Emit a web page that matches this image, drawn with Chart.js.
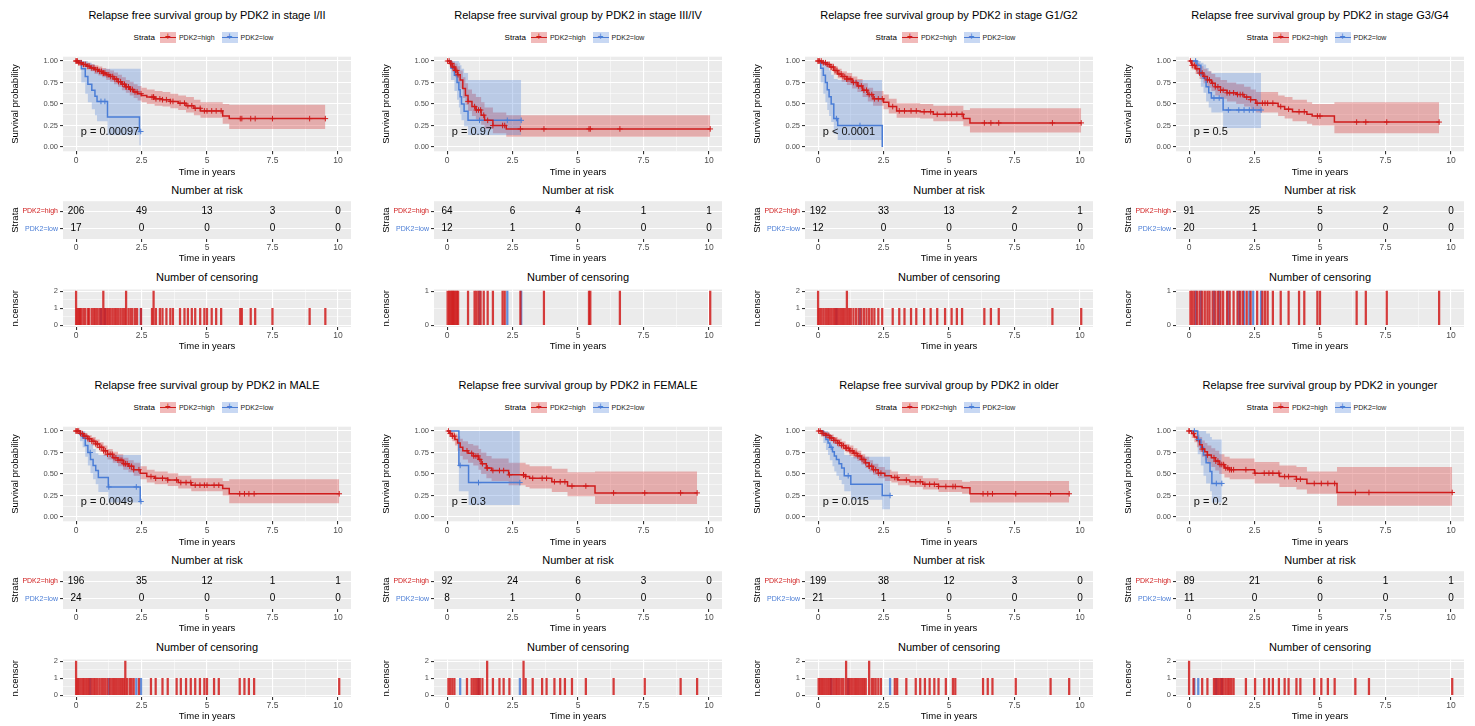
<!DOCTYPE html>
<html>
<head>
<meta charset="utf-8">
<script src="https://cdn.jsdelivr.net/npm/chart.js@4.4.1/dist/chart.umd.min.js"></script>
<style>
  body { margin: 0; width: 1475px; height: 726px; background: #fff; position: relative; overflow: hidden;
         font-family: 'Liberation Sans', Arial, sans-serif; color: #000; }
  .panel { position: absolute; width: 371px; height: 365px; }
  .panel canvas { position: absolute; left: 0; }
  .title { position: absolute; left: 7px; width: 400px; top: 8px; line-height: 14px; font-size: 11px;
           text-align: center; white-space: nowrap; }
  .legend { position: absolute; left: 7px; width: 400px; top: 30px; height: 14px; display: flex;
            justify-content: center; align-items: center; font-size: 7px; white-space: nowrap; }
  .legend .strata { font-size: 8px; margin-right: 5px; }
  .legend .lab { margin: 0 7px 0 3px; color: #222; }
  .key { position: relative; display: inline-block; width: 16px; height: 11px; }
  .key i { position: absolute; left: 0; right: 0; top: 5px; height: 1.6px; }
  .key b { position: absolute; left: 0; right: 0; top: -1px; text-align: center; font-size: 10px; line-height: 12px; font-weight: normal; }
  .sub { position: absolute; left: 57px; width: 300px; line-height: 14px; font-size: 11px; text-align: center; white-space: nowrap; }
</style>
</head>
<body>
<script>
// axes
const timeTicks = [0, 2.5, 5, 7.5, 10];
const survTicks = [0, 0.25, 0.5, 0.75, 1];
const strata = ['PDK2=high', 'PDK2=low'];

const titles = [
  'Relapse free survival group by PDK2 in stage I/II',
  'Relapse free survival group by PDK2 in stage III/IV',
  'Relapse free survival group by PDK2 in stage G1/G2',
  'Relapse free survival group by PDK2 in stage G3/G4',
  'Relapse free survival group by PDK2 in MALE',
  'Relapse free survival group by PDK2 in FEMALE',
  'Relapse free survival group by PDK2 in older',
  'Relapse free survival group by PDK2 in younger'
];
const pvals = ['p = 0.00097', 'p = 0.97', 'p < 0.0001', 'p = 0.5', 'p = 0.0049', 'p = 0.3', 'p = 0.015', 'p = 0.2'];

// stage I/II
const g1HighTime = [0, 0.1, 0.25, 0.4, 0.55, 0.7, 0.85, 1.0, 1.15, 1.3, 1.45, 1.6, 1.75, 1.9, 2.05, 2.2, 2.35, 2.5, 2.7, 3.0, 3.3, 3.6, 3.9, 4.2, 4.5, 4.75, 5.6, 5.85];
const g1HighSurv = [1, 0.98, 0.96, 0.94, 0.92, 0.90, 0.88, 0.86, 0.84, 0.82, 0.79, 0.76, 0.73, 0.70, 0.67, 0.64, 0.62, 0.60, 0.58, 0.56, 0.55, 0.53, 0.51, 0.48, 0.45, 0.42, 0.36, 0.33];
const g1HighUpper = [1, 1, 0.99, 0.98, 0.965, 0.95, 0.935, 0.92, 0.905, 0.89, 0.865, 0.84, 0.81, 0.78, 0.76, 0.73, 0.71, 0.69, 0.67, 0.65, 0.64, 0.62, 0.60, 0.58, 0.55, 0.52, 0.50, 0.49];
const g1HighLower = [1, 0.96, 0.93, 0.90, 0.88, 0.85, 0.83, 0.81, 0.78, 0.76, 0.73, 0.70, 0.66, 0.63, 0.60, 0.57, 0.54, 0.52, 0.50, 0.48, 0.47, 0.45, 0.43, 0.40, 0.37, 0.34, 0.27, 0.21];
const g1HighCensor = [0, 0, 0.05, 0.1, 0.15, 0.2, 0.28, 0.35, 0.45, 0.5, 0.6, 0.68, 0.75, 0.82, 0.9, 0.97, 1.04, 1.04, 1.1, 1.18, 1.25, 1.32, 1.4, 1.48, 1.55, 1.62, 1.7, 1.78, 1.85, 1.91, 1.91, 2.0, 2.08, 2.15, 2.25, 2.33, 2.48, 2.9, 2.96, 2.96, 3.05, 3.2, 3.3, 3.45, 3.6, 3.7, 3.97, 4.14, 4.27, 4.42, 4.55, 4.74, 4.9, 5.0, 5.18, 5.35, 5.54, 6.27, 6.33, 6.67, 6.84, 7.5, 8.92, 9.52];
const g1LowTime = [0, 0.2, 0.35, 0.45, 0.6, 0.72, 0.8, 1.2, 2.42];
const g1LowSurv = [1, 0.91, 0.82, 0.73, 0.66, 0.59, 0.53, 0.35, 0.18];
const g1LowUpper = [1, 1, 1, 0.98, 0.96, 0.93, 0.91, 0.91, 0.91];
const g1LowLower = [1, 0.75, 0.62, 0.52, 0.44, 0.37, 0.30, 0.14, 0.02];
const g1LowCensor = [0.95, 1.1, 2.47];
const g1RiskHigh = [206, 49, 13, 3, 0];
const g1RiskLow = [17, 0, 0, 0, 0];

// stage III/IV
const g2HighTime = [0, 0.1, 0.2, 0.3, 0.4, 0.5, 0.6, 0.7, 0.8, 0.95, 1.1, 1.3, 1.43, 1.75, 2.26];
const g2HighSurv = [1, 0.97, 0.93, 0.89, 0.84, 0.78, 0.68, 0.6, 0.53, 0.47, 0.43, 0.37, 0.31, 0.25, 0.21];
const g2HighUpper = [1, 1, 0.99, 0.97, 0.94, 0.89, 0.81, 0.74, 0.67, 0.62, 0.58, 0.52, 0.46, 0.40, 0.37];
const g2HighLower = [1, 0.93, 0.87, 0.81, 0.75, 0.68, 0.57, 0.49, 0.42, 0.36, 0.32, 0.26, 0.21, 0.16, 0.12];
const g2HighCensor = [0.02, 0.08, 0.13, 0.18, 0.22, 0.27, 0.32, 0.37, 0.42, 0.8, 1.05, 1.12, 1.2, 1.28, 1.4, 1.55, 1.75, 2.12, 2.2, 2.8, 3.7, 5.42, 5.47, 6.6, 10.05];
const g2LowTime = [0, 0.15, 0.28, 0.38, 0.45, 0.5, 0.55, 0.65, 0.8];
const g2LowSurv = [1, 0.917, 0.833, 0.75, 0.667, 0.583, 0.5, 0.417, 0.31];
const g2LowUpper = [1, 1, 1, 1, 0.98, 0.95, 0.91, 0.86, 0.78];
const g2LowLower = [1, 0.78, 0.65, 0.55, 0.46, 0.38, 0.31, 0.24, 0.14];
const g2LowCensor = [1.24, 2.3, 2.83];
const g2RiskHigh = [64, 6, 4, 1, 1];
const g2RiskLow = [12, 1, 0, 0, 0];

// stage G1/G2
const g3HighTime = [0, 0.15, 0.3, 0.45, 0.6, 0.75, 0.9, 1.1, 1.3, 1.5, 1.7, 1.9, 2.1, 2.5, 2.7, 3.0, 3.9, 4.4, 5.55, 5.8];
const g3HighSurv = [1, 0.98, 0.96, 0.93, 0.89, 0.85, 0.82, 0.79, 0.75, 0.71, 0.66, 0.61, 0.56, 0.52, 0.47, 0.42, 0.41, 0.38, 0.33, 0.28];
const g3HighUpper = [1, 1, 0.99, 0.97, 0.94, 0.91, 0.88, 0.86, 0.82, 0.79, 0.74, 0.69, 0.65, 0.61, 0.56, 0.51, 0.50, 0.48, 0.43, 0.45];
const g3HighLower = [1, 0.96, 0.93, 0.89, 0.84, 0.80, 0.76, 0.72, 0.68, 0.64, 0.58, 0.53, 0.48, 0.44, 0.39, 0.34, 0.33, 0.30, 0.24, 0.17];
const g3HighCensor = [0, 0, 0.05, 0.12, 0.2, 0.28, 0.35, 0.42, 0.5, 0.58, 0.65, 0.72, 0.8, 0.88, 0.95, 1.02, 1.1, 1.1, 1.18, 1.25, 1.35, 1.45, 1.55, 1.65, 1.75, 1.85, 1.95, 2.05, 2.15, 2.3, 2.45, 2.85, 3.1, 3.3, 3.55, 3.75, 4.05, 4.3, 4.55, 4.85, 5.1, 5.3, 5.5, 6.35, 6.6, 6.9, 8.95, 10.05];
const g3LowTime = [0, 0.1, 0.2, 0.28, 0.35, 0.42, 0.5, 0.6, 0.75, 2.45];
const g3LowSurv = [1, 0.917, 0.833, 0.75, 0.667, 0.583, 0.5, 0.33, 0.25, 0];
const g3LowUpper = [1, 1, 1, 0.98, 0.94, 0.89, 0.84, 0.79, 0.78, 0];
const g3LowLower = [1, 0.75, 0.62, 0.52, 0.43, 0.36, 0.29, 0.15, 0.08, 0];
const g3LowCensor = [0.7, 1.6];
const g3RiskHigh = [192, 33, 13, 2, 1];
const g3RiskLow = [12, 0, 0, 0, 0];

// stage G3/G4
const g4HighTime = [0, 0.1, 0.25, 0.4, 0.55, 0.7, 0.85, 1.0, 1.2, 1.45, 1.8, 2.1, 2.35, 2.55, 3.4, 3.65, 3.95, 4.5, 4.7, 5.55];
const g4HighSurv = [1, 0.95, 0.91, 0.86, 0.82, 0.78, 0.74, 0.70, 0.66, 0.63, 0.61, 0.58, 0.55, 0.51, 0.47, 0.44, 0.41, 0.38, 0.36, 0.29];
const g4HighUpper = [1, 1, 0.98, 0.94, 0.91, 0.88, 0.85, 0.81, 0.78, 0.75, 0.73, 0.70, 0.67, 0.64, 0.60, 0.58, 0.55, 0.52, 0.50, 0.52];
const g4HighLower = [1, 0.90, 0.85, 0.79, 0.74, 0.69, 0.65, 0.60, 0.56, 0.53, 0.50, 0.47, 0.44, 0.40, 0.36, 0.33, 0.30, 0.27, 0.25, 0.16];
const g4HighCensor = [0.05, 0.12, 0.2, 0.3, 0.4, 0.5, 0.6, 0.7, 0.78, 0.9, 1.0, 1.1, 1.2, 1.3, 1.45, 1.55, 1.7, 1.85, 1.95, 2.05, 2.2, 2.35, 2.6, 2.8, 2.9, 3.0, 3.2, 3.5, 3.8, 4.2, 4.4, 4.9, 5.0, 6.4, 6.75, 7.55, 9.55];
const g4LowTime = [0, 0.3, 0.45, 0.55, 0.65, 0.75, 0.85, 1.3];
const g4LowSurv = [1, 0.95, 0.85, 0.8, 0.7, 0.63, 0.57, 0.43];
const g4LowUpper = [1, 1, 0.98, 0.96, 0.92, 0.88, 0.86, 0.86];
const g4LowLower = [1, 0.86, 0.70, 0.63, 0.53, 0.46, 0.40, 0.22];
const g4LowCensor = [0.25, 0.45, 0.95, 1.15, 1.5, 1.9, 2.1, 2.3, 2.45, 2.75];
const g4RiskHigh = [91, 25, 5, 2, 0];
const g4RiskLow = [20, 1, 0, 0, 0];

// MALE
const g5HighTime = [0, 0.15, 0.3, 0.45, 0.6, 0.75, 0.9, 1.05, 1.2, 1.4, 1.6, 1.8, 2.0, 2.2, 2.45, 2.7, 3.0, 3.5, 3.9, 4.4, 5.6, 5.85];
const g5HighSurv = [1, 0.97, 0.94, 0.91, 0.88, 0.85, 0.81, 0.77, 0.73, 0.69, 0.66, 0.62, 0.59, 0.55, 0.51, 0.47, 0.45, 0.43, 0.40, 0.37, 0.33, 0.27];
const g5HighUpper = [1, 0.99, 0.97, 0.95, 0.93, 0.90, 0.87, 0.83, 0.79, 0.76, 0.73, 0.69, 0.66, 0.63, 0.59, 0.55, 0.53, 0.51, 0.48, 0.45, 0.42, 0.44];
const g5HighLower = [1, 0.95, 0.91, 0.87, 0.83, 0.80, 0.76, 0.71, 0.67, 0.63, 0.59, 0.55, 0.52, 0.48, 0.44, 0.40, 0.38, 0.36, 0.33, 0.30, 0.25, 0.16];
const g5HighCensor = [0, 0, 0.05, 0.1, 0.17, 0.24, 0.3, 0.38, 0.45, 0.52, 0.6, 0.68, 0.75, 0.82, 0.9, 0.98, 1.05, 1.12, 1.2, 1.3, 1.38, 1.45, 1.52, 1.6, 1.68, 1.75, 1.82, 1.88, 1.88, 1.95, 2.05, 2.12, 2.2, 2.4, 2.86, 3.04, 3.3, 3.5, 3.84, 4.0, 4.2, 4.38, 4.55, 4.73, 4.9, 5.0, 5.27, 5.45, 6.25, 6.43, 6.6, 6.8, 10.05];
const g5LowTime = [0, 0.15, 0.25, 0.35, 0.45, 0.55, 0.65, 0.75, 0.85, 1.23, 2.45];
const g5LowSurv = [1, 0.96, 0.92, 0.83, 0.75, 0.67, 0.6, 0.54, 0.46, 0.35, 0.18];
const g5LowUpper = [1, 1, 1, 0.96, 0.91, 0.85, 0.79, 0.74, 0.72, 0.72, 0.72];
const g5LowLower = [1, 0.88, 0.81, 0.70, 0.60, 0.51, 0.44, 0.38, 0.29, 0.17, 0.02];
const g5LowCensor = [0.54, 1.25, 2.3, 2.48];
const g5RiskHigh = [196, 35, 12, 1, 1];
const g5RiskLow = [24, 0, 0, 0, 0];

// FEMALE
const g6HighTime = [0, 0.1, 0.2, 0.3, 0.4, 0.5, 0.6, 0.8, 1.0, 1.2, 1.3, 1.5, 1.7, 2.35, 3.0, 3.15, 4.0, 4.6, 5.65];
const g6HighSurv = [1, 0.97, 0.94, 0.90, 0.86, 0.81, 0.77, 0.74, 0.71, 0.67, 0.62, 0.57, 0.54, 0.49, 0.47, 0.45, 0.41, 0.36, 0.28];
const g6HighUpper = [1, 1, 0.99, 0.97, 0.94, 0.91, 0.88, 0.85, 0.83, 0.79, 0.75, 0.71, 0.68, 0.63, 0.61, 0.59, 0.56, 0.52, 0.53];
const g6HighLower = [1, 0.93, 0.88, 0.83, 0.77, 0.71, 0.67, 0.63, 0.60, 0.55, 0.50, 0.45, 0.42, 0.37, 0.35, 0.33, 0.29, 0.24, 0.15];
const g6HighCensor = [0.05, 0.12, 0.2, 0.28, 0.76, 0.94, 1.02, 1.1, 1.18, 1.25, 1.35, 1.53, 1.53, 1.75, 2.0, 2.16, 2.38, 2.92, 2.92, 3.0, 3.27, 3.63, 3.8, 4.1, 4.32, 4.5, 4.77, 5.3, 6.36, 7.55, 8.92, 9.55];
const g6LowTime = [0, 0.45, 0.82];
const g6LowSurv = [1, 0.6, 0.4];
const g6LowUpper = [1, 1, 1];
const g6LowLower = [1, 0.3, 0.14];
const g6LowCensor = [0.5, 1.2, 2.78];
const g6RiskHigh = [92, 24, 6, 3, 0];
const g6RiskLow = [8, 1, 0, 0, 0];

// older
const g7HighTime = [0, 0.15, 0.3, 0.45, 0.6, 0.75, 0.9, 1.05, 1.2, 1.35, 1.5, 1.65, 1.8, 1.95, 2.1, 2.3, 2.55, 2.8, 3.05, 3.5, 4.0, 4.6, 5.5, 5.8];
const g7HighSurv = [1, 0.97, 0.95, 0.92, 0.89, 0.86, 0.83, 0.80, 0.77, 0.74, 0.71, 0.67, 0.63, 0.59, 0.55, 0.51, 0.48, 0.46, 0.43, 0.41, 0.38, 0.355, 0.34, 0.27];
const g7HighUpper = [1, 0.99, 0.98, 0.96, 0.93, 0.91, 0.88, 0.85, 0.83, 0.80, 0.77, 0.73, 0.70, 0.66, 0.62, 0.58, 0.55, 0.53, 0.50, 0.48, 0.45, 0.43, 0.41, 0.42];
const g7HighLower = [1, 0.95, 0.92, 0.88, 0.85, 0.81, 0.78, 0.75, 0.71, 0.68, 0.65, 0.61, 0.57, 0.53, 0.49, 0.45, 0.42, 0.40, 0.37, 0.35, 0.32, 0.29, 0.27, 0.17];
const g7HighCensor = [0.02, 0.08, 0.15, 0.22, 0.3, 0.38, 0.45, 0.52, 0.6, 0.68, 0.75, 0.82, 0.9, 0.97, 1.07, 1.07, 1.15, 1.22, 1.3, 1.38, 1.45, 1.52, 1.6, 1.68, 1.75, 1.82, 1.95, 1.95, 2.05, 2.12, 2.2, 2.3, 2.4, 2.93, 3.02, 3.37, 3.73, 3.9, 4.08, 4.26, 4.44, 4.6, 4.88, 5.15, 5.24, 6.3, 6.48, 6.66, 7.55, 8.88, 9.59];
const g7LowTime = [0, 0.2, 0.3, 0.38, 0.45, 0.55, 0.62, 0.7, 0.8, 0.9, 1.0, 1.25, 2.45];
const g7LowSurv = [1, 0.95, 0.9, 0.86, 0.81, 0.76, 0.71, 0.67, 0.62, 0.57, 0.48, 0.38, 0.25];
const g7LowUpper = [1, 1, 1, 0.98, 0.95, 0.92, 0.89, 0.86, 0.82, 0.78, 0.72, 0.70, 0.70];
const g7LowLower = [1, 0.86, 0.78, 0.72, 0.66, 0.59, 0.53, 0.48, 0.43, 0.38, 0.30, 0.20, 0.09];
const g7LowCensor = [0.5, 1.15, 2.75];
const g7RiskHigh = [199, 38, 12, 3, 0];
const g7RiskLow = [21, 1, 0, 0, 0];

// younger
const g8HighTime = [0, 0.1, 0.2, 0.3, 0.4, 0.5, 0.6, 0.7, 0.85, 1.0, 1.15, 1.35, 1.55, 2.5, 3.45, 4.1, 4.5, 5.65];
const g8HighSurv = [1, 0.97, 0.93, 0.89, 0.84, 0.79, 0.76, 0.72, 0.69, 0.65, 0.61, 0.57, 0.55, 0.51, 0.47, 0.44, 0.39, 0.285];
const g8HighUpper = [1, 1, 0.99, 0.96, 0.93, 0.89, 0.86, 0.83, 0.80, 0.77, 0.73, 0.70, 0.68, 0.64, 0.60, 0.58, 0.53, 0.58];
const g8HighLower = [1, 0.92, 0.87, 0.81, 0.76, 0.70, 0.66, 0.62, 0.58, 0.54, 0.50, 0.46, 0.44, 0.39, 0.35, 0.32, 0.27, 0.13];
const g8HighCensor = [0, 0, 0.17, 0.5, 0.7, 0.95, 1.02, 1.1, 1.18, 1.25, 1.32, 1.4, 1.48, 1.55, 1.62, 1.7, 2.17, 2.52, 2.87, 3.05, 3.2, 3.43, 3.65, 3.8, 4.1, 4.25, 4.78, 5.05, 5.3, 5.56, 6.35, 6.87, 10.05];
const g8LowTime = [0, 0.33, 0.45, 0.55, 0.65, 0.8, 0.87];
const g8LowSurv = [1, 0.9, 0.81, 0.72, 0.63, 0.53, 0.39];
const g8LowUpper = [1, 1, 1, 1, 0.97, 0.93, 0.9];
const g8LowLower = [1, 0.73, 0.6, 0.48, 0.39, 0.30, 0.17];
const g8LowCensor = [0.2, 0.35, 1.04, 1.25];
const g8RiskHigh = [89, 21, 6, 1, 1];
const g8RiskLow = [11, 0, 0, 0, 0];

const RED = '#D01C1C';
const BLUE = '#4A7DD6';
const RED_BAND = 'rgba(208, 28, 28, 0.3)';
const BLUE_BAND = 'rgba(74, 125, 214, 0.3)';
const FONT = "'Liberation Sans', Arial, sans-serif";

Chart.defaults.font.family = FONT;

function curve(time, surv, upper, lower, censor) {
  return { time, surv, upper, lower, censor };
}

const panels = [
  { high: curve(g1HighTime, g1HighSurv, g1HighUpper, g1HighLower, g1HighCensor), low: curve(g1LowTime, g1LowSurv, g1LowUpper, g1LowLower, g1LowCensor), riskHigh: g1RiskHigh, riskLow: g1RiskLow },
  { high: curve(g2HighTime, g2HighSurv, g2HighUpper, g2HighLower, g2HighCensor), low: curve(g2LowTime, g2LowSurv, g2LowUpper, g2LowLower, g2LowCensor), riskHigh: g2RiskHigh, riskLow: g2RiskLow },
  { high: curve(g3HighTime, g3HighSurv, g3HighUpper, g3HighLower, g3HighCensor), low: curve(g3LowTime, g3LowSurv, g3LowUpper, g3LowLower, g3LowCensor), riskHigh: g3RiskHigh, riskLow: g3RiskLow },
  { high: curve(g4HighTime, g4HighSurv, g4HighUpper, g4HighLower, g4HighCensor), low: curve(g4LowTime, g4LowSurv, g4LowUpper, g4LowLower, g4LowCensor), riskHigh: g4RiskHigh, riskLow: g4RiskLow },
  { high: curve(g5HighTime, g5HighSurv, g5HighUpper, g5HighLower, g5HighCensor), low: curve(g5LowTime, g5LowSurv, g5LowUpper, g5LowLower, g5LowCensor), riskHigh: g5RiskHigh, riskLow: g5RiskLow },
  { high: curve(g6HighTime, g6HighSurv, g6HighUpper, g6HighLower, g6HighCensor), low: curve(g6LowTime, g6LowSurv, g6LowUpper, g6LowLower, g6LowCensor), riskHigh: g6RiskHigh, riskLow: g6RiskLow },
  { high: curve(g7HighTime, g7HighSurv, g7HighUpper, g7HighLower, g7HighCensor), low: curve(g7LowTime, g7LowSurv, g7LowUpper, g7LowLower, g7LowCensor), riskHigh: g7RiskHigh, riskLow: g7RiskLow },
  { high: curve(g8HighTime, g8HighSurv, g8HighUpper, g8HighLower, g8HighCensor), low: curve(g8LowTime, g8LowSurv, g8LowUpper, g8LowLower, g8LowCensor), riskHigh: g8RiskHigh, riskLow: g8RiskLow }
];

// minor grid lines sit half way between the labelled ticks, like ggplot
const midpoints = arr => arr.slice(1).map((v, i) => (v + arr[i]) / 2);
const timeGrid = [...timeTicks, ...midpoints(timeTicks)].sort((a, b) => a - b);
const survGrid = [...survTicks, ...midpoints(survTicks)].sort((a, b) => a - b);

function endOf(c) {
  return Math.max(c.time[c.time.length - 1], ...c.censor);
}
function steps(time, vals, end) {
  const pts = time.map((t, i) => ({ x: t, y: vals[i] }));
  pts.push({ x: end, y: vals[vals.length - 1] });
  return pts;
}
function survAt(c, t) {
  let s = c.surv[0];
  c.time.forEach((tt, i) => { if (tt <= t) s = c.surv[i]; });
  return s;
}
function counts(times) {
  const m = new Map();
  times.forEach(t => m.set(t, (m.get(t) || 0) + 1));
  return [...m].map(([x, y]) => ({ x, y }));
}

// grey ggplot panel
const panelBg = {
  id: 'panelBg',
  beforeDraw(chart) {
    const { ctx, chartArea: a } = chart;
    ctx.save();
    ctx.fillStyle = '#EBEBEB';
    ctx.fillRect(a.left, a.top, a.right - a.left, a.bottom - a.top);
    ctx.restore();
  }
};

const pvalText = {
  id: 'pvalText',
  afterDatasetsDraw(chart, args, opts) {
    const { ctx, scales: { x, y } } = chart;
    ctx.save();
    ctx.font = '11px ' + FONT;
    ctx.fillStyle = '#111';
    ctx.textAlign = 'left';
    ctx.textBaseline = 'middle';
    ctx.fillText(opts.text, x.getPixelForValue(0.18), y.getPixelForValue(0.18));
    ctx.restore();
  }
};

const riskText = {
  id: 'riskText',
  afterDatasetsDraw(chart) {
    const ctx = chart.ctx;
    ctx.save();
    ctx.font = '10px ' + FONT;
    ctx.fillStyle = '#000';
    ctx.textAlign = 'center';
    ctx.textBaseline = 'middle';
    chart.data.datasets.forEach((ds, di) => {
      chart.getDatasetMeta(di).data.forEach((pt, k) => ctx.fillText(String(ds.data[k].n), pt.x, pt.y));
    });
    ctx.restore();
  }
};

const isMajorTime = v => timeTicks.includes(v);

function timeAxis(height, withGrid) {
  return {
    type: 'linear', min: -0.5, max: 10.5, offset: false,
    afterBuildTicks: s => { s.ticks = (withGrid ? timeGrid : timeTicks).map(v => ({ value: v })); },
    afterFit: s => { s.height = height; },
    ticks: {
      autoSkip: false, maxRotation: 0, padding: 1, color: '#4D4D4D',
      font: { size: 8.5 },
      callback: v => isMajorTime(v) ? String(v) : ''
    },
    grid: {
      offset: false,
      color: withGrid ? '#FFFFFF' : 'rgba(0,0,0,0)',
      lineWidth: c => isMajorTime(c.tick.value) ? 1.1 : 0.5,
      tickLength: 3,
      tickColor: c => isMajorTime(c.tick.value) ? '#333333' : 'rgba(0,0,0,0)'
    },
    border: { display: false },
    title: { display: true, text: 'Time in years', color: '#000', font: { size: 9.5 }, padding: { top: 0, bottom: 0 } }
  };
}

function leftTitle(text) {
  return { display: true, text, color: '#000', font: { size: 9.5 }, padding: { top: 9.3, bottom: 0 } };
}

const base = {
  responsive: false, animation: false, devicePixelRatio: 1, events: [],
  plugins: { legend: { display: false }, tooltip: { enabled: false } }
};

function kmChart(canvas, p, i) {
  const h = p.high, l = p.low;
  const hEnd = endOf(h), lEnd = endOf(l);
  const band = (c, key, end, color, fill, order) => ({
    data: steps(c.time, c[key], end), stepped: true, fill, backgroundColor: color,
    borderColor: 'rgba(0,0,0,0)', borderWidth: 0, pointRadius: 0, order
  });
  const line = (c, end, color) => ({
    data: steps(c.time, c.surv, end), stepped: true, fill: false, borderColor: color,
    borderWidth: 1.5, pointRadius: 0, order: 2
  });
  const marks = (c, color) => ({
    type: 'scatter', data: c.censor.map(t => ({ x: t, y: survAt(c, t) })),
    pointStyle: 'cross', pointRadius: 2.8, borderColor: color, borderWidth: 1, order: 1
  });
  new Chart(canvas, {
    type: 'line',
    data: {
      datasets: [
        band(h, 'upper', hEnd, RED_BAND, '+1', 4),
        band(h, 'lower', hEnd, RED_BAND, false, 4),
        band(l, 'upper', lEnd, BLUE_BAND, '+1', 3),
        band(l, 'lower', lEnd, BLUE_BAND, false, 3),
        line(h, hEnd, RED),
        line(l, lEnd, BLUE),
        marks(h, RED),
        marks(l, BLUE)
      ]
    },
    options: {
      ...base,
      layout: { padding: { top: 8.7, right: 20, left: 0, bottom: 0 }, autoPadding: false },
      plugins: { ...base.plugins, pvalText: { text: pvals[i] } },
      scales: {
        x: timeAxis(26.7, true),
        y: {
          type: 'linear', min: -0.05, max: 1.05,
          afterBuildTicks: s => { s.ticks = survGrid.map(v => ({ value: v })); },
          afterFit: s => { s.width = 63; },
          ticks: {
            autoSkip: false, padding: 2, color: '#4D4D4D', font: { size: 7.5 },
            callback: v => survTicks.includes(v) ? v.toFixed(2) : ''
          },
          grid: {
            color: '#FFFFFF',
            lineWidth: c => survTicks.includes(c.tick.value) ? 1.1 : 0.5,
            tickLength: 3,
            tickColor: c => survTicks.includes(c.tick.value) ? '#333333' : 'rgba(0,0,0,0)'
          },
          border: { display: false },
          title: leftTitle('Survival probability')
        }
      }
    },
    plugins: [panelBg, pvalText]
  });
}

function riskChart(canvas, p) {
  new Chart(canvas, {
    type: 'scatter',
    data: {
      datasets: [
        { data: timeTicks.map((t, k) => ({ x: t, y: 2, n: p.riskHigh[k] })), pointRadius: 0 },
        { data: timeTicks.map((t, k) => ({ x: t, y: 1, n: p.riskLow[k] })), pointRadius: 0 }
      ]
    },
    options: {
      ...base,
      layout: { padding: { top: 5, right: 20, left: 0, bottom: 0 }, autoPadding: false },
      scales: {
        x: timeAxis(25, false),
        y: {
          type: 'linear', min: 0.4, max: 2.6,
          afterBuildTicks: s => { s.ticks = [{ value: 1 }, { value: 2 }]; },
          afterFit: s => { s.width = 63; },
          ticks: {
            autoSkip: false, padding: 2, font: { size: 7 },
            color: c => c.tick.value === 2 ? RED : BLUE,
            callback: v => v === 2 ? strata[0] : strata[1]
          },
          grid: { color: '#FFFFFF', lineWidth: 1.1, tickLength: 3, tickColor: '#333333' },
          border: { display: false },
          title: leftTitle('Strata')
        }
      }
    },
    plugins: [panelBg, riskText]
  });
}

function censorChart(canvas, p) {
  const hi = counts(p.high.censor), lo = counts(p.low.censor);
  const top = Math.max(...hi.map(d => d.y), ...lo.map(d => d.y));
  const yTicks = Array.from({ length: top + 1 }, (_, k) => k);
  const yGrid = [...yTicks, ...midpoints(yTicks)].sort((a, b) => a - b);
  const bars = (data, color) => ({
    data, backgroundColor: color, barThickness: 1.6, grouped: false, borderWidth: 0
  });
  new Chart(canvas, {
    type: 'bar',
    data: { datasets: [bars(hi, 'rgba(208, 28, 28, 0.85)'), bars(lo, 'rgba(74, 125, 214, 0.85)')] },
    options: {
      ...base,
      layout: { padding: { top: 4, right: 20, left: 0, bottom: 0 }, autoPadding: false },
      scales: {
        x: timeAxis(25, true),
        y: {
          type: 'linear', min: -0.05 * top, max: 1.05 * top,
          afterBuildTicks: s => { s.ticks = yGrid.map(v => ({ value: v })); },
          afterFit: s => { s.width = 63; },
          ticks: {
            autoSkip: false, padding: 2, color: '#4D4D4D', font: { size: 7.5 },
            callback: v => yTicks.includes(v) ? String(v) : ''
          },
          grid: {
            color: '#FFFFFF',
            lineWidth: c => yTicks.includes(c.tick.value) ? 1.1 : 0.5,
            tickLength: 3,
            tickColor: c => yTicks.includes(c.tick.value) ? '#333333' : 'rgba(0,0,0,0)'
          },
          border: { display: false },
          title: leftTitle('n.censor')
        }
      }
    },
    plugins: [panelBg]
  });
}

panels.forEach((p, i) => {
  const box = document.createElement('div');
  box.className = 'panel';
  box.style.left = ((i % 4) * 371) + 'px';
  box.style.top = (Math.floor(i / 4) * 370) + 'px';
  box.innerHTML =
    '<div class="title">' + titles[i] + '</div>' +
    '<div class="legend"><span class="strata">Strata</span>' +
      '<span class="key" style="background:' + RED_BAND + '"><i style="background:' + RED + '"></i><b style="color:' + RED + '">+</b></span>' +
      '<span class="lab">' + strata[0] + '</span>' +
      '<span class="key" style="background:' + BLUE_BAND + '"><i style="background:' + BLUE + '"></i><b style="color:' + BLUE + '">+</b></span>' +
      '<span class="lab">' + strata[1] + '</span></div>' +
    '<canvas class="km" width="371" height="130" style="top:48px;width:371px;height:130px"></canvas>' +
    '<div class="sub" style="top:183px">Number at risk</div>' +
    '<canvas class="risk" width="371" height="69" style="top:195px;width:371px;height:69px"></canvas>' +
    '<div class="sub" style="top:270px">Number of censoring</div>' +
    '<canvas class="cens" width="371" height="69" style="top:283px;width:371px;height:69px"></canvas>';
  document.body.appendChild(box);
  kmChart(box.querySelector('.km'), p, i);
  riskChart(box.querySelector('.risk'), p);
  censorChart(box.querySelector('.cens'), p);
});
</script>
</body>
</html>
